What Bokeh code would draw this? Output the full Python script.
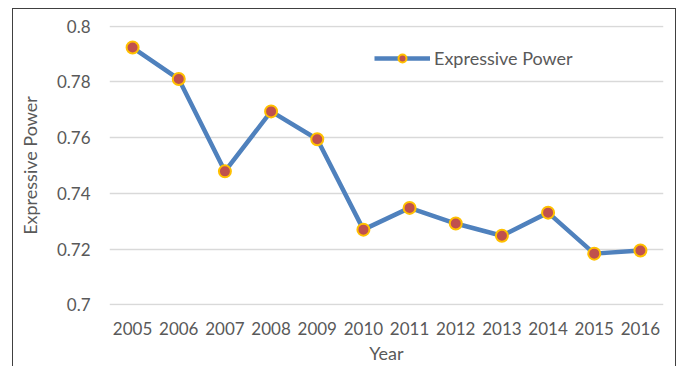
from bokeh.plotting import figure
from bokeh.models import (Range1d, FixedTicker, NumeralTickFormatter, Legend,
                          LegendItem, ColumnDataSource, InlineStyleSheet)
from bokeh.embed import file_html
from bokeh.resources import INLINE

# Expressive power per year
years = ["2005", "2006", "2007", "2008", "2009", "2010",
         "2011", "2012", "2013", "2014", "2015", "2016"]
expressive_power = [0.7923, 0.7810, 0.7479, 0.7694, 0.7594, 0.7270,
                    0.7348, 0.7292, 0.7248, 0.7331, 0.7184, 0.7195]
y_ticks = [0.70, 0.72, 0.74, 0.76, 0.78, 0.80]

FONT = "Lato"
TEXT = "#595959"
LINE = "#4F81BD"

src = ColumnDataSource(data=dict(year=years, value=expressive_power))

p = figure(width=687, height=366, x_range=years, y_range=Range1d(0.6998, 0.8002),
           output_backend="svg", toolbar_location=None,
           min_border_left=109, min_border_right=24,
           min_border_top=25, min_border_bottom=61)
p.outline_line_color = None
p.background_fill_color = "white"
p.border_fill_color = "white"

# horizontal grid only
p.xgrid.grid_line_color = None
p.ygrid.grid_line_color = "#D9D9D9"
p.ygrid.grid_line_width = 1.3

p.yaxis.ticker = FixedTicker(ticks=y_ticks)
p.yaxis.formatter = NumeralTickFormatter(format="0.[00]")

for ax in (p.xaxis[0], p.yaxis[0]):
    ax.axis_line_color = None
    ax.major_tick_line_color = None
    ax.minor_tick_line_color = None
    ax.major_tick_in = 0
    ax.major_tick_out = 0
    ax.major_label_text_font = FONT
    ax.major_label_text_font_size = "17px"
    ax.major_label_text_color = TEXT
    ax.axis_label_text_font = FONT
    ax.axis_label_text_font_size = "18px"
    ax.axis_label_text_color = TEXT
    ax.axis_label_text_font_style = "normal"

p.xaxis.axis_label = "Year"
p.xaxis.major_label_standoff = 16
p.xaxis.axis_label_standoff = 4
p.yaxis.axis_label = "Expressive Power"
p.yaxis.major_label_standoff = 19
p.yaxis.axis_label_standoff = 13

ln = p.line("year", "value", source=src, line_color=LINE, line_width=4.5)
pts = p.scatter("year", "value", source=src, size=12, marker="circle",
                fill_color="#C0504D", line_color="#FFC000", line_width=2)

legend = Legend(items=[LegendItem(label="Expressive Power", renderers=[ln, pts])],
                location=(265, 236), orientation="horizontal",
                glyph_width=56, glyph_height=20, label_standoff=4,
                padding=0, margin=0, border_line_color=None,
                background_fill_alpha=0,
                label_text_font=FONT, label_text_font_size="18px",
                label_text_color=TEXT)
p.add_layout(legend)

# outer chart border (open at the bottom edge of the page)
p.stylesheets = [InlineStyleSheet(css="""
:host { position: relative; }
:host::after {
  content: ""; position: absolute; pointer-events: none;
  left: 12px; top: 8px; width: 664px; height: 420px;
  border: 1px solid #404040; box-sizing: border-box;
}
""")]

open("out.html", "w").write(file_html(p, INLINE))
